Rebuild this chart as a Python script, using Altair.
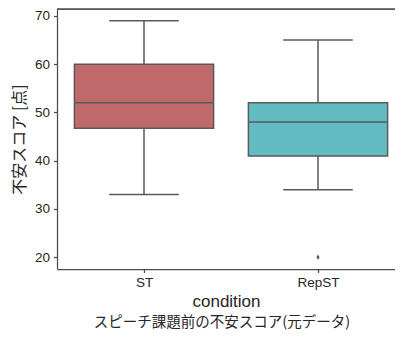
import altair as alt
import pandas as pd

conditions = ["ST", "RepST"]
positions = [0, 1]
mins = [33, 34]
q1s = [46.75, 41]
medians = [52, 48]
q3s = [60, 52]
maxs = [69, 65]
box_colors = ["#c0696a", "#62bcc2"]

outlier_conditions = ["RepST"]
outlier_positions = [1]
outlier_values = [20]

title_text = "スピーチ課題前の不安スコア(元データ)"
y_title = "不安スコア [点]"
x_title = "condition"

W, H = 338, 260
LINE = "#5a5a5a"
JP = "Noto Sans CJK JP"
LAT = "Liberation Sans"

df = pd.DataFrame({
    "condition": conditions, "pos": positions, "min": mins, "q1": q1s,
    "median": medians, "q3": q3s, "max": maxs,
})
odf = pd.DataFrame({"condition": outlier_conditions, "pos": outlier_positions, "value": outlier_values})

xscale = alt.Scale(domain=[-0.5, 1.4425], nice=False, zero=False)
yscale = alt.Scale(domain=[17.55, 71.45], nice=False, zero=False)

base = alt.Chart(df).transform_calculate(
    lo="datum.pos - 0.4", hi="datum.pos + 0.4",
    clo="datum.pos - 0.2", chi="datum.pos + 0.2",
)

xaxis = alt.Axis(values=[0, 1], labelExpr="datum.value == 0 ? 'ST' : 'RepST'",
                 title=x_title, grid=False, tickSize=3.5, labelPadding=3,
                 labelFontSize=13.5, titleFontSize=17, titlePadding=4,
                 labelFont=LAT, titleFont=LAT, labelColor="#262626", titleColor="#262626",
                 titleFontWeight="normal", domainColor="#4d4d4d", tickColor="#4d4d4d",
                 domainWidth=1.25, tickWidth=1.25)
yaxis = alt.Axis(values=[20, 30, 40, 50, 60, 70], title=y_title, grid=False,
                 tickSize=3.5, labelPadding=4, labelFontSize=13.5, titleFontSize=16,
                 titlePadding=7, labelFont=LAT, titleFont=JP, labelColor="#262626",
                 titleColor="#262626", titleFontWeight="normal",
                 domainColor="#4d4d4d", tickColor="#4d4d4d", domainWidth=1.25, tickWidth=1.25)

X = lambda f: alt.X(f, scale=xscale, axis=xaxis)
Y = lambda f: alt.Y(f, scale=yscale, axis=yaxis)

whisk_lo = base.mark_rule(color=LINE, strokeWidth=1.5).encode(
    x=X("pos:Q"), y=Y("min:Q"), y2="q1:Q",
)
whisk_hi = base.mark_rule(color=LINE, strokeWidth=1.5).encode(
    x=X("pos:Q"), y=Y("q3:Q"), y2="max:Q",
)
boxes = base.mark_bar(stroke=LINE, strokeWidth=1.5).encode(
    x=X("lo:Q"), x2="hi:Q",
    y=Y("q1:Q"), y2="q3:Q",
    fill=alt.Fill("condition:N", scale=alt.Scale(domain=conditions, range=box_colors), legend=None),
)
med = base.mark_rule(color=LINE, strokeWidth=1.5).encode(
    x=X("lo:Q"), x2="hi:Q", y=Y("median:Q"),
)
cap_lo = base.mark_rule(color=LINE, strokeWidth=1.5).encode(
    x=X("clo:Q"), x2="chi:Q", y=Y("min:Q"),
)
cap_hi = base.mark_rule(color=LINE, strokeWidth=1.5).encode(
    x=X("clo:Q"), x2="chi:Q", y=Y("max:Q"),
)
outl = alt.Chart(odf).mark_point(shape="M0,-1L0.6,0L0,1L-0.6,0Z", filled=True,
                                 color=LINE, size=28, opacity=1).encode(
    x=X("pos:Q"), y=Y("value:Q"),
)
top = alt.Chart(df).mark_rule(color="#4d4d4d", strokeWidth=1.25).encode(
    x=alt.value(0), x2=alt.value(W), y=alt.value(0)
)

chart = alt.layer(whisk_lo, whisk_hi, cap_lo, cap_hi, boxes, med, outl, top).properties(
    width=W, height=H,
    title=alt.TitleParams(title_text, orient="bottom", fontSize=14.5, font=JP,
                          fontWeight="normal", color="#262626", offset=7, dx=-4),
    autosize=alt.AutoSizeParams(type="none"),
    padding={"left": 49, "top": 1, "right": 0, "bottom": 65},
    background="white",
).configure_view(stroke=None)

chart.save("out.html", embed_options={"renderer": "svg", "actions": False})
